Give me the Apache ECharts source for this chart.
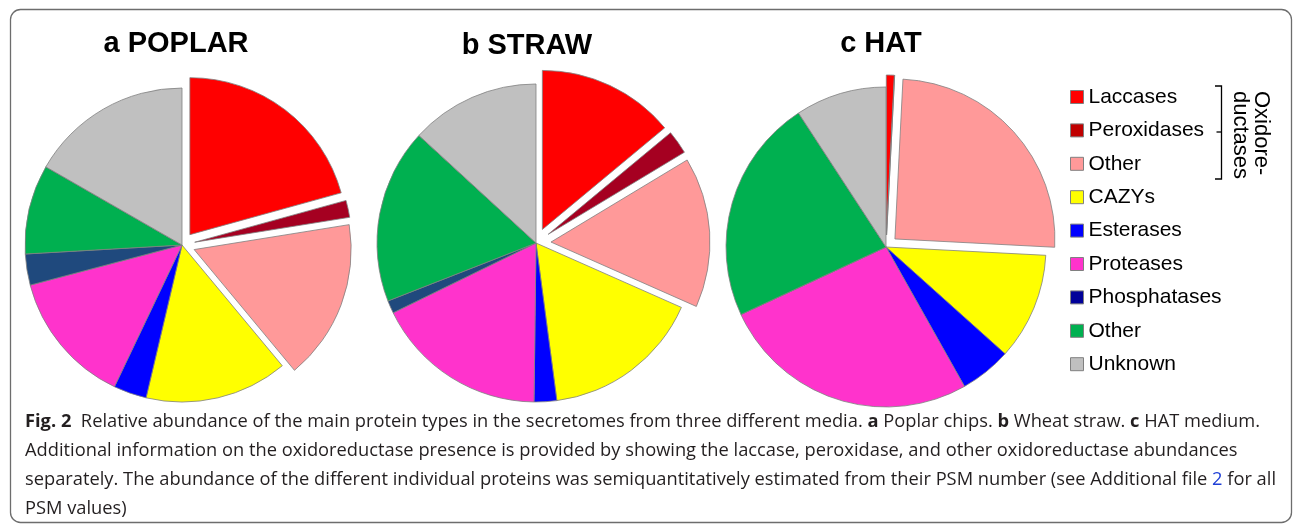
<!DOCTYPE html>
<html>
<head>
<meta charset="utf-8">
<script src="https://cdn.jsdelivr.net/npm/echarts@6/dist/echarts.min.js"></script>
<style>
  html, body { margin: 0; padding: 0; background: #fff; }
  #chart { width: 1293px; height: 524px; }
</style>
</head>
<body>
<div id="chart"></div>
<script>
// protein types, clockwise from 12 o'clock
const categories = ["Laccases", "Peroxidases", "Other oxidoreductases", "CAZYs", "Esterases", "Proteases", "Phosphatases", "Other", "Unknown"]
const legendLabels = ["Laccases", "Peroxidases", "Other", "CAZYs", "Esterases", "Proteases", "Phosphatases", "Other", "Unknown"]
const oxidoreductases = ["Laccases", "Peroxidases", "Other oxidoreductases"]

// relative abundance (%)
const poplar = [20.7, 1.75, 16.5, 14.7, 3.4, 13.8, 3.2, 9.2, 16.7]
const straw = [14.0, 2.4, 15.3, 16.3, 2.3, 17.6, 1.3, 17.8, 13.2]
const hat = [0.8, 0, 25.0, 10.8, 5.2, 26.2, 0, 22.7, 9.2]

const pieColors = ["#ff0000", "#a50021", "#ff9999", "#ffff00", "#0000ff", "#ff33cc", "#1f497d", "#00b050", "#c0c0c0"]
const legendColors = ["#ff0000", "#c00000", "#ff9999", "#ffff00", "#0000ff", "#ff33cc", "#000099", "#00b050", "#c0c0c0"]

const titles = ["a POPLAR", "b STRAW", "c HAT"]
const captionLines = [
  "{b|Fig. 2}  Relative abundance of the main protein types in the secretomes from three different media. {b|a} Poplar chips. {b|b} Wheat straw. {b|c} HAT medium.",
  "Additional information on the oxidoreductase presence is provided by showing the laccase, peroxidase, and other oxidoreductase abundances",
  "separately. The abundance of the different individual proteins was semiquantitatively estimated from their PSM number (see Additional file {l|2} for all",
  "PSM values)"
]

const chart = echarts.init(document.getElementById("chart"))

const makePie = (values, center, radius, offset) => ({
  type: "pie",
  center: center,
  radius: radius,
  startAngle: 90,
  clockwise: true,
  selectedMode: "multiple",
  selectedOffset: offset,
  avoidLabelOverlap: false,
  label: { show: false },
  labelLine: { show: false },
  emphasis: { disabled: true },
  itemStyle: { borderColor: "#808080", borderWidth: 0.8 },
  data: categories.map((name, i) => ({
    name: name,
    value: values[i],
    selected: oxidoreductases.includes(name),
    itemStyle: { color: pieColors[i] }
  }))
})

const titleFont = "bold 29px 'Liberation Sans', Arial, sans-serif"
const capSize = 18.3
const capFont = capSize + "px 'Open Sans', sans-serif"
const sideFont = "22px 'Liberation Sans', Arial, sans-serif"

const option = {
  animation: false,
  legend: {
    orient: "vertical",
    left: 1070,
    top: 86.5,
    padding: 0,
    itemWidth: 13,
    itemHeight: 13,
    itemGap: 12.4,
    selectedMode: false,
    icon: "rect",
    itemStyle: { borderColor: "#808080", borderWidth: 1 },
    textStyle: { fontFamily: "'Liberation Sans', Arial, sans-serif", fontSize: 21, lineHeight: 21, color: "#000" },
    formatter: (name) => legendLabels[categories.indexOf(name)],
    data: categories.map((name, i) => ({ name: name, itemStyle: { color: legendColors[i] } }))
  },
  series: [
    makePie(poplar, [182, 245], 157, 13),
    makePie(straw, [536, 243], 159, 15),
    makePie(hat, [886, 247], 160, 12)
  ],
  graphic: [
    {
      type: "rect",
      shape: { x: 10.5, y: 9.5, width: 1281, height: 513, r: 10 },
      style: { fill: "none", stroke: "#6d6d6d", lineWidth: 1.3 },
      silent: true
    },
    { type: "text", x: 176, y: 44, style: { text: titles[0], font: titleFont, fill: "#000", align: "center", verticalAlign: "middle" } },
    { type: "text", x: 527, y: 45.5, style: { text: titles[1], font: titleFont, fill: "#000", align: "center", verticalAlign: "middle" } },
    { type: "text", x: 881, y: 44, style: { text: titles[2], font: titleFont, fill: "#000", align: "center", verticalAlign: "middle" } },
    // bracket for the oxidoreductases
    {
      type: "polyline",
      shape: { points: [[1215, 86], [1221.5, 86], [1221.5, 179], [1215, 179]] },
      style: { fill: "none", stroke: "#000", lineWidth: 1.3 }
    },
    {
      type: "line",
      shape: { x1: 1221.5, y1: 132, x2: 1216.5, y2: 132 },
      style: { stroke: "#000", lineWidth: 1.3 }
    },
    {
      type: "text", x: 1261.5, y: 91, rotation: -Math.PI / 2,
      style: { text: "Oxidore-", font: sideFont, fill: "#000", align: "left", verticalAlign: "middle" }
    },
    {
      type: "text", x: 1240.5, y: 91, rotation: -Math.PI / 2,
      style: { text: "ductases", font: sideFont, fill: "#000", align: "left", verticalAlign: "middle" }
    }
  ].concat(captionLines.map((line, i) => ({
    type: "text",
    x: 25,
    y: 421.5 + i * 29,
    style: {
      text: line,
      font: capFont,
      fill: "#231f20",
      align: "left",
      verticalAlign: "middle",
      rich: {
        b: { fontFamily: "'Open Sans', sans-serif", fontSize: capSize, fontWeight: "bold", fill: "#231f20" },
        l: { fontFamily: "'Open Sans', sans-serif", fontSize: capSize, fill: "#1f3fd6" }
      }
    }
  })))
}

chart.setOption(option)
</script>
</body>
</html>
